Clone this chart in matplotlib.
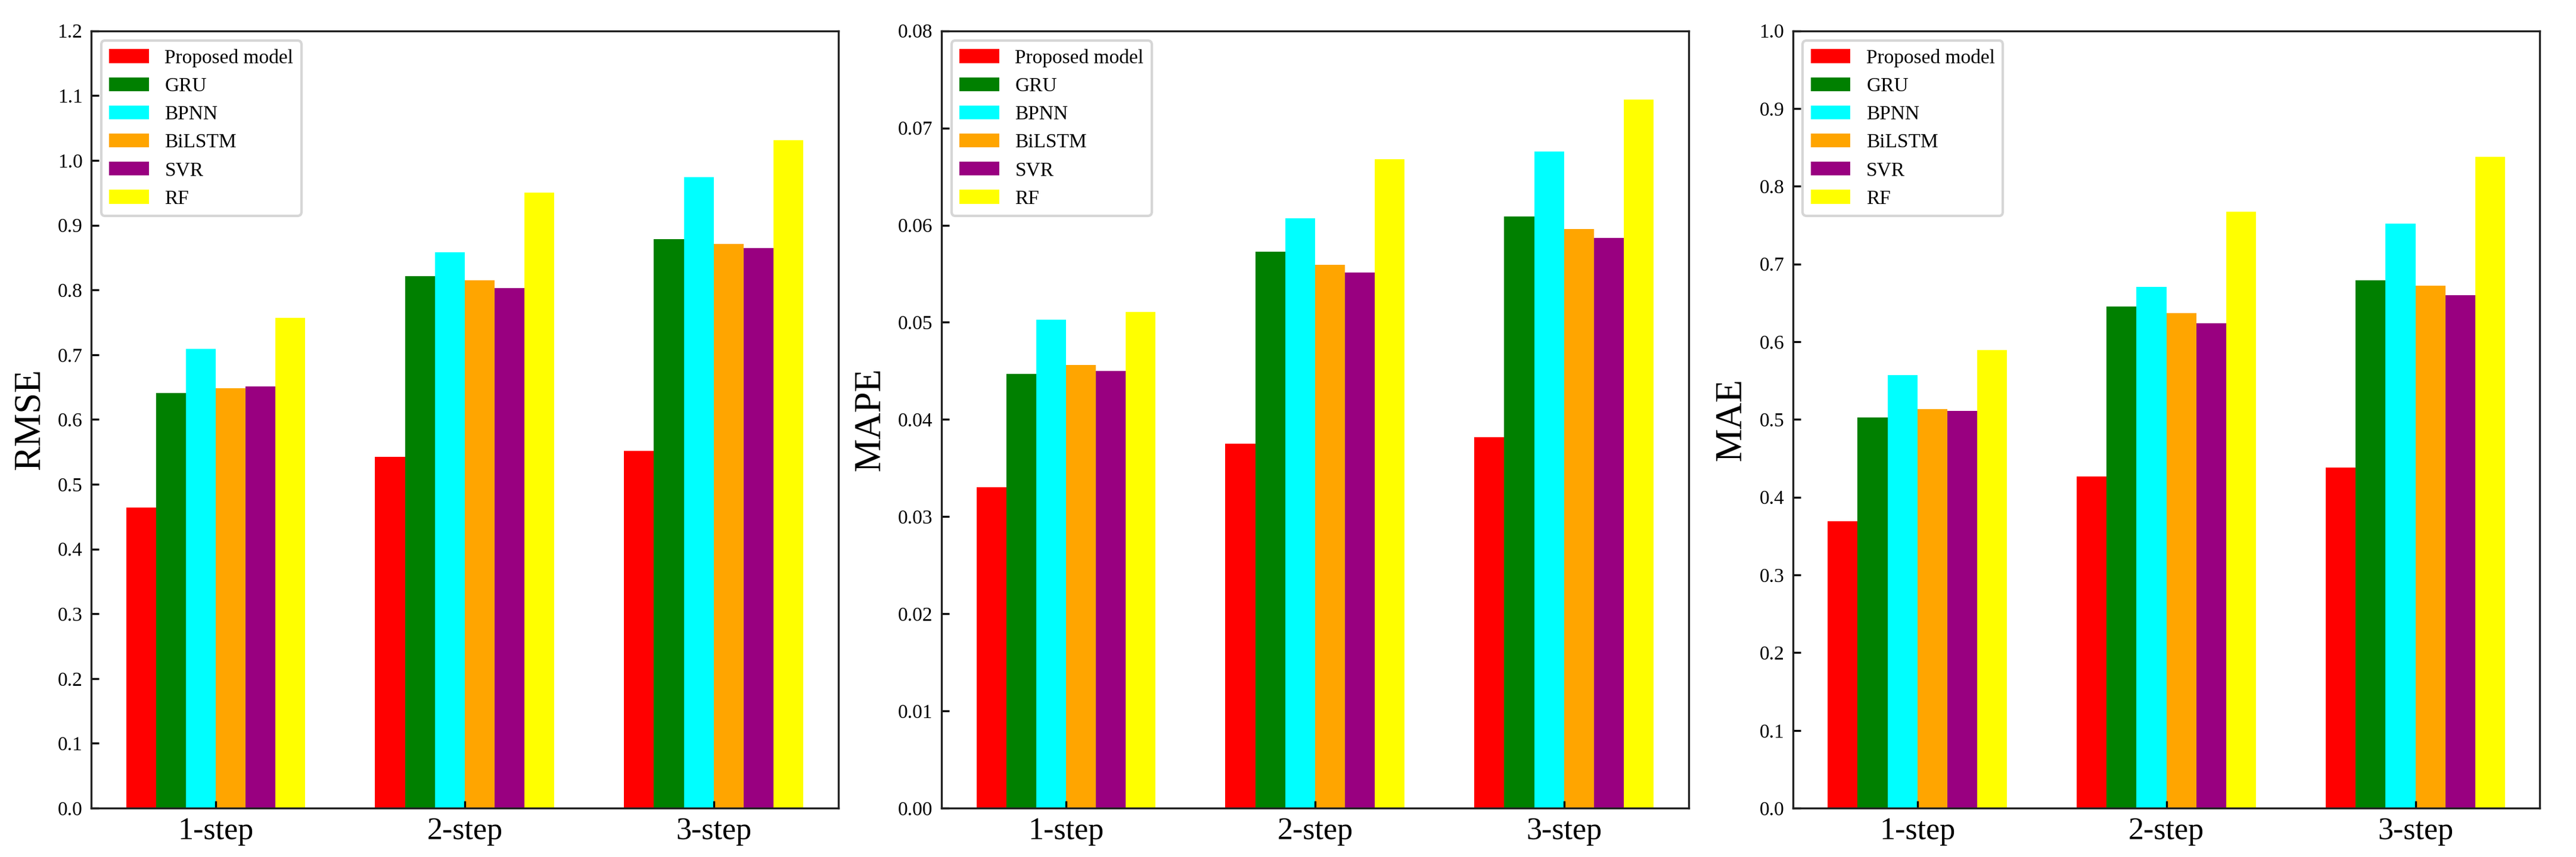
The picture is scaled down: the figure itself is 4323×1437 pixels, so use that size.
import matplotlib
matplotlib.use("Agg")
import matplotlib.pyplot as plt
import numpy as np

plt.rcParams['font.family'] = ['Liberation Serif', 'DejaVu Serif']

steps = ['1-step', '2-step', '3-step']
models = ['Proposed model', 'GRU', 'BPNN', 'BiLSTM', 'SVR', 'RF']
colors = ['#FF0000', '#008000', '#00FFFF', '#FFA500', '#990080', '#FFFF00']

# values per model, one entry per step
rmse = {
    'Proposed model': [0.464, 0.542, 0.552],
    'GRU': [0.641, 0.821, 0.878],
    'BPNN': [0.709, 0.858, 0.974],
    'BiLSTM': [0.648, 0.815, 0.871],
    'SVR': [0.651, 0.803, 0.865],
    'RF': [0.757, 0.950, 1.031],
}
mape = {
    'Proposed model': [0.0330, 0.0375, 0.0382],
    'GRU': [0.0447, 0.0573, 0.0609],
    'BPNN': [0.0503, 0.0607, 0.0676],
    'BiLSTM': [0.0456, 0.0559, 0.0596],
    'SVR': [0.0450, 0.0551, 0.0587],
    'RF': [0.0511, 0.0668, 0.0729],
}
mae = {
    'Proposed model': [0.369, 0.427, 0.438],
    'GRU': [0.503, 0.645, 0.679],
    'BPNN': [0.557, 0.671, 0.752],
    'BiLSTM': [0.513, 0.637, 0.672],
    'SVR': [0.511, 0.624, 0.660],
    'RF': [0.589, 0.767, 0.838],
}

panels = [
    ('RMSE', rmse, 1.2, 0.1, '%.1f'),
    ('MAPE', mape, 0.08, 0.01, '%.2f'),
    ('MAE', mae, 1.0, 0.1, '%.1f'),
]

fig = plt.figure(figsize=(4323 / 300, 1437 / 300), dpi=300)
lefts = [0.0354, 0.3655, 0.6960]
width = 0.12
x = np.arange(len(steps))

for left, (name, data, ymax, ystep, fmt) in zip(lefts, panels):
    ax = fig.add_axes([left, 0.057, 0.290, 0.907])
    for i, m in enumerate(models):
        ax.bar(x + (i - 2.5) * width, data[m], width, color=colors[i], label=m)
    ax.set_xlim(-0.5, 2.5)
    ax.set_ylim(0, ymax)
    yt = np.arange(0, ymax + ystep / 2, ystep)
    ax.set_yticks(yt)
    ax.set_yticklabels([fmt % v for v in yt], fontsize=8)
    ax.set_xticks(x)
    ax.set_xticklabels(steps, fontsize=12.5)
    ax.tick_params(direction='in', length=3, width=0.8, top=False, right=False)
    ax.set_ylabel(name, fontsize=15)
    for s in ax.spines.values():
        s.set_linewidth(0.8)
        s.set_color('#222222')
    ax.legend(loc='upper left', fontsize=8)

plt.savefig('out.png', dpi=300)
